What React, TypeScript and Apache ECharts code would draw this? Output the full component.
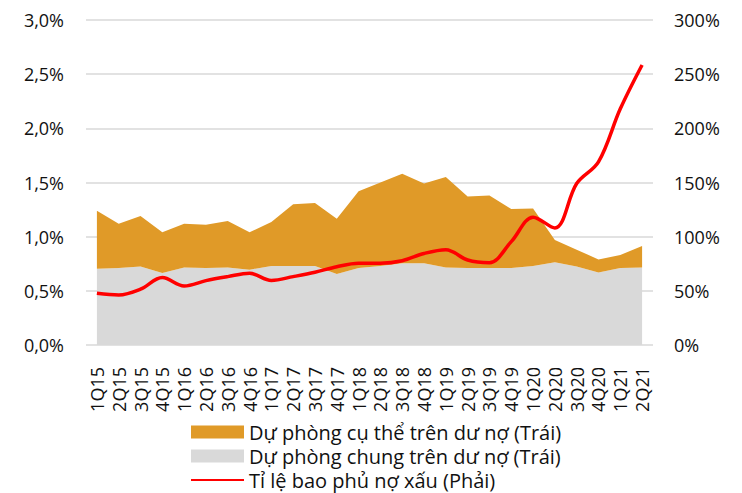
import React, { useEffect, useRef } from "react";
import * as echarts from "echarts";

const quarters = [
  "1Q15", "2Q15", "3Q15", "4Q15", "1Q16", "2Q16", "3Q16", "4Q16", "1Q17", "2Q17",
  "3Q17", "4Q17", "1Q18", "2Q18", "3Q18", "4Q18", "1Q19", "2Q19", "3Q19", "4Q19",
  "1Q20", "2Q20", "3Q20", "4Q20", "1Q21", "2Q21",
];

// Dự phòng chung trên dư nợ (%), bottom layer
const generalProvision = [
  0.705, 0.71, 0.725, 0.665, 0.715, 0.71, 0.715, 0.695, 0.73, 0.73,
  0.73, 0.655, 0.71, 0.73, 0.755, 0.755, 0.715, 0.71, 0.71, 0.71,
  0.73, 0.765, 0.725, 0.67, 0.71, 0.715,
];

// Dự phòng cụ thể trên dư nợ (%), stacked on top
const specificProvision = [
  0.535, 0.41, 0.465, 0.375, 0.405, 0.4, 0.43, 0.345, 0.405, 0.57,
  0.58, 0.51, 0.71, 0.77, 0.825, 0.735, 0.835, 0.66, 0.67, 0.545,
  0.53, 0.205, 0.155, 0.12, 0.12, 0.2,
];

// Tỉ lệ bao phủ nợ xấu (%)
const coverageRatio = [
  47.7, 46.2, 51.5, 62.2, 54.5, 59.4, 63.1, 66.2, 59.6, 63.1,
  67.1, 72.3, 75.5, 75.5, 77.8, 84.5, 88, 78.5, 76, 95.4,
  118, 108, 149, 169, 218, 258.5,
];

const leftTicks = { min: 0, max: 3, interval: 0.5 };
const rightTicks = { min: 0, max: 300, interval: 50 };

const FONT = "'Open Sans', 'Noto Sans', sans-serif";

export default function App() {
  const ref = useRef<HTMLDivElement>(null);

  useEffect(() => {
    if (!ref.current) return;
    const chart = echarts.init(ref.current, undefined, { renderer: "svg" });
    chart.setOption({
      animation: false,
      backgroundColor: "#ffffff",
      textStyle: { fontFamily: FONT },
      grid: { left: 86, right: 89, top: 20, bottom: 148, containLabel: false },
      legend: {
        orient: "vertical",
        left: 190,
        top: 421,
        padding: 0,
        itemWidth: 53,
        itemHeight: 13,
        itemGap: 2,
        textStyle: { fontFamily: FONT, fontSize: 20, color: "#111", lineHeight: 22 },
        data: [
          { name: "Dự phòng cụ thể trên dư nợ (Trái)", icon: "rect" },
          { name: "Dự phòng chung trên dư nợ (Trái)", icon: "rect" },
          { name: "Tỉ lệ bao phủ nợ xấu (Phải)", itemStyle: { opacity: 0 } },
        ],
      },
      xAxis: {
        type: "category",
        data: quarters,
        boundaryGap: true,
        axisLine: { show: false },
        axisTick: { show: false },
        axisLabel: {
          rotate: 90,
          margin: 22,
          fontFamily: FONT,
          fontSize: 18,
          color: "#111",
          interval: 0,
        },
      },
      yAxis: [
        {
          type: "value",
          position: "left",
          ...leftTicks,
          axisLine: { show: false },
          axisTick: { show: false },
          splitLine: { show: true, lineStyle: { color: "#d9d9d9", width: 1.5 } },
          axisLabel: {
            margin: 22,
            fontFamily: FONT,
            fontSize: 18,
            color: "#111",
            formatter: (v: number) => v.toFixed(1).replace(".", ",") + "%",
          },
        },
        {
          type: "value",
          position: "right",
          ...rightTicks,
          axisLine: { show: false },
          axisTick: { show: false },
          splitLine: { show: false },
          axisLabel: {
            margin: 21,
            fontFamily: FONT,
            fontSize: 18,
            color: "#111",
            formatter: (v: number) => v + "%",
          },
        },
      ],
      series: [
        {
          name: "Dự phòng chung trên dư nợ (Trái)",
          type: "line",
          stack: "provision",
          yAxisIndex: 0,
          data: generalProvision,
          symbol: "none",
          lineStyle: { width: 0 },
          itemStyle: { color: "#d9d9d9" },
          areaStyle: { color: "#d9d9d9", opacity: 1 },
          z: 1,
        },
        {
          name: "Dự phòng cụ thể trên dư nợ (Trái)",
          type: "line",
          stack: "provision",
          yAxisIndex: 0,
          data: specificProvision,
          symbol: "none",
          lineStyle: { width: 0 },
          itemStyle: { color: "#e09a28" },
          areaStyle: { color: "#e09a28", opacity: 1 },
          z: 1,
        },
        {
          name: "Tỉ lệ bao phủ nợ xấu (Phải)",
          type: "line",
          yAxisIndex: 1,
          data: coverageRatio,
          symbol: "none",
          smooth: 0.35,
          lineStyle: { width: 3.5, color: "#ff0000" },
          itemStyle: { color: "#ff0000" },
          z: 3,
        },
      ],
    });
    return () => chart.dispose();
  }, []);

  return (
    <div
      ref={ref}
      style={{ position: "fixed", left: 0, top: 0, width: 742, height: 493 }}
    />
  );
}
